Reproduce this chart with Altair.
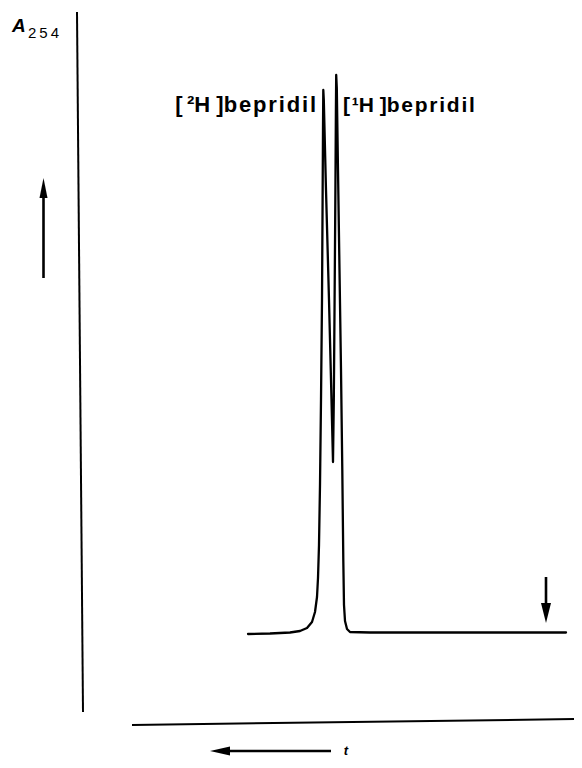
import altair as alt
import pandas as pd

# Chromatogram trace (time position, detector response position)
trace_t = [248, 270, 290, 300, 307, 312, 315, 317, 318, 319, 320, 321, 322, 322.6, 323.0, 323.3,
           323.8, 326, 329, 331.5, 333,
           333.8, 334.6, 335.4, 335.9, 336.2,
           336.8, 338, 339.5, 341, 342.3, 343.3, 344, 345, 347, 350, 370, 566]
trace_a = [634, 633.5, 632.5, 631, 628, 622, 612, 597, 578, 545, 485, 400, 300, 200, 130, 90,
           100, 190, 300, 400, 462,
           400, 300, 190, 110, 75,
           88, 170, 270, 370, 470, 560, 605, 621, 629, 632, 632.5, 632.5]

# Axis lines (start/end)
axis_x1 = [77, 132]
axis_y1 = [12, 725]
axis_x2 = [83, 580]
axis_y2 = [712, 719]

# Arrow shafts
shaft_x1 = [43.5, 228, 546]
shaft_y1 = [278, 751, 577]
shaft_x2 = [43.5, 331, 546]
shaft_y2 = [195, 751, 606]

# Arrow heads
head_x = [43.5, 220, 546]
head_y = [188, 751, 613]
head_shape = ["M0,-1L0.4,1L-0.4,1Z", "M-1,0L1,-0.45L1,0.45Z", "M0,1L0.5,-1L-0.5,-1Z"]

W, H = 566, 752
xs = alt.Scale(domain=[8, 8 + W], nice=False, zero=False)
ys = alt.Scale(domain=[8 + H, 8], nice=False, zero=False)

df_trace = pd.DataFrame({"t": trace_t, "a": trace_a, "o": list(range(len(trace_t)))})
df_axes = pd.DataFrame({"x": axis_x1, "y": axis_y1, "x2": axis_x2, "y2": axis_y2})
df_shaft = pd.DataFrame({"x": shaft_x1, "y": shaft_y1, "x2": shaft_x2, "y2": shaft_y2})
df_head = pd.DataFrame({"x": head_x, "y": head_y, "s": head_shape})

trace = alt.Chart(df_trace).mark_line(color="black", strokeWidth=2.3, interpolate="linear",
                                      strokeJoin="round", strokeCap="round").encode(
    x=alt.X("t:Q", scale=xs, axis=None),
    y=alt.Y("a:Q", scale=ys, axis=None),
    order="o:Q",
)

axes = alt.Chart(df_axes).mark_rule(color="black", strokeWidth=2).encode(
    x=alt.X("x:Q", scale=xs, axis=None), y=alt.Y("y:Q", scale=ys, axis=None),
    x2="x2:Q", y2="y2:Q",
)

shafts = alt.Chart(df_shaft).mark_rule(color="black", strokeWidth=2.6).encode(
    x=alt.X("x:Q", scale=xs, axis=None), y=alt.Y("y:Q", scale=ys, axis=None),
    x2="x2:Q", y2="y2:Q",
)

heads = alt.Chart(df_head).mark_point(filled=True, color="black", opacity=1, size=400,
                                      strokeWidth=0).encode(
    x=alt.X("x:Q", scale=xs, axis=None), y=alt.Y("y:Q", scale=ys, axis=None),
    shape=alt.Shape("s:N", scale=None),
)

TS = "\u2009"  # thin space used as letter tracking
HS = "\u200a"  # hair space


def tracked(s, sep):
    return sep.join(list(s))


# Labels
lab_text = ["[" + TS + "²H ]" + tracked("bepridil", HS), "[" + HS + "¹H ]" + tracked("bepridil", HS)]
lab_x = [316, 343]
lab_y = [112, 112]
lab_align = ["right", "left"]
lab_size = [22, 21]

labels = alt.layer(*[
    alt.Chart(pd.DataFrame({"x": [lab_x[i]], "y": [lab_y[i]], "txt": [lab_text[i]]})).mark_text(
        align=lab_align[i], baseline="alphabetic", fontSize=lab_size[i], fontWeight="bold",
        font="Liberation Sans", color="black").encode(
        x=alt.X("x:Q", scale=xs, axis=None), y=alt.Y("y:Q", scale=ys, axis=None), text="txt:N")
    for i in range(2)
])

a_lab = alt.Chart(pd.DataFrame({"x": [12], "y": [32], "txt": ["A"]})).mark_text(
    align="left", baseline="alphabetic", fontSize=19, fontStyle="italic", fontWeight="bold",
    font="Liberation Sans", color="black").encode(
    x=alt.X("x:Q", scale=xs, axis=None), y=alt.Y("y:Q", scale=ys, axis=None), text="txt:N")

sub_lab = alt.Chart(pd.DataFrame({"x": [28], "y": [38], "txt": [tracked("254", TS)]})).mark_text(
    align="left", baseline="alphabetic", fontSize=15,
    font="Liberation Sans", color="black").encode(
    x=alt.X("x:Q", scale=xs, axis=None), y=alt.Y("y:Q", scale=ys, axis=None), text="txt:N")

t_lab = alt.Chart(pd.DataFrame({"x": [346], "y": [755], "txt": ["t"]})).mark_text(
    align="center", baseline="alphabetic", fontSize=13, fontStyle="italic", fontWeight="bold",
    font="Liberation Sans", color="black").encode(
    x=alt.X("x:Q", scale=xs, axis=None), y=alt.Y("y:Q", scale=ys, axis=None), text="txt:N")

chart = alt.layer(axes, trace, shafts, heads, labels, a_lab, sub_lab, t_lab).properties(
    width=W, height=H, padding=0, autosize=alt.AutoSizeParams(type="none"),
    background="white",
).configure_view(stroke=None)

chart.save("out.html", embed_options={"renderer": "svg", "actions": False})
